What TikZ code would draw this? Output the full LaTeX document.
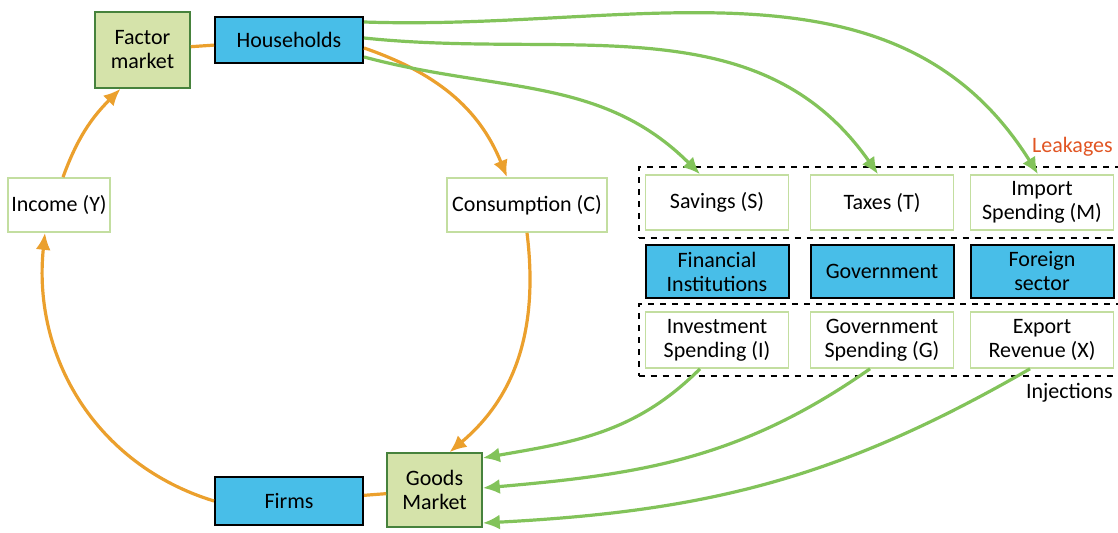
\documentclass[tikz,border=0pt]{standalone}
\usepackage{fontspec}
\setmainfont{Carlito}
\usetikzlibrary{arrows.meta,fit}

\definecolor{azul}{RGB}{72,190,232}
\definecolor{verdeclaro}{RGB}{213,227,170}
\definecolor{verdeosc}{RGB}{70,130,60}
\definecolor{borde}{RGB}{195,222,160}
\definecolor{naranja}{RGB}{235,160,45}
\definecolor{verde}{RGB}{130,195,90}
\definecolor{rojizo}{RGB}{225,85,35}

\tikzset{
	sector/.style={draw=black, line width=1pt, fill=azul, align=center, inner sep=1pt},
	mercado/.style={draw=verdeosc, line width=0.8pt, fill=verdeclaro, align=center, inner sep=1pt},
	flujo/.style={draw=borde, line width=0.8pt, fill=white, align=center, inner sep=1pt},
	marco/.style={draw=black, dashed, line width=0.8pt, inner xsep=3pt, inner ysep=3.5pt},
	circ/.style={draw=naranja, line width=1.6pt, -{Latex[length=8.5pt,width=7.5pt]}},
	enlace/.style={draw=naranja, line width=1.6pt},
	fuga/.style={draw=verde, line width=1.6pt, -{Latex[length=8.5pt,width=7.5pt]}}
}

\begin{document}
\begin{tikzpicture}[x=0.5pt, y=-0.5pt, font=\fontsize{11}{12}\selectfont]
\useasboundingbox (0,0) rectangle (1118,533);

% Flujo circular
\node[mercado, minimum width=47.5pt, minimum height=38pt] (factor) at (142.5,50) {Factor\\market};
\node[sector, minimum width=74pt, minimum height=23pt] (house) at (289,40) {Households};
\node[flujo, minimum width=51pt, minimum height=27pt] (income) at (59,205) {Income (Y)};
\node[flujo, minimum width=80pt, minimum height=27pt] (cons) at (527,205) {Consumption (C)};
\node[mercado, minimum width=47.5pt, minimum height=37pt] (goods) at (434.5,490) {Goods\\Market};
\node[sector, minimum width=74pt, minimum height=24pt] (firms) at (289,501) {Firms};

% Fugas, sectores e inyecciones
\node[flujo, minimum width=71.5pt, minimum height=27.5pt] (sav) at (717,202.5) {Savings (S)};
\node[flujo, minimum width=71.5pt, minimum height=27.5pt] (tax) at (882,202.5) {Taxes (T)};
\node[flujo, minimum width=71.5pt, minimum height=27.5pt] (imp) at (1042,202.5) {Import\\Spending (M)};

\node[sector, minimum width=71.5pt, minimum height=26.5pt] (fin) at (717,271.5) {Financial\\Institutions};
\node[sector, minimum width=71.5pt, minimum height=26.5pt] (gov) at (882,271.5) {Government};
\node[sector, minimum width=71.5pt, minimum height=26.5pt] (for) at (1042,271.5) {Foreign\\sector};

\node[flujo, minimum width=71.5pt, minimum height=28pt] (inv) at (717,340) {Investment\\Spending (I)};
\node[flujo, minimum width=71.5pt, minimum height=28pt] (gsp) at (882,340) {Government\\Spending (G)};
\node[flujo, minimum width=71.5pt, minimum height=28pt] (exr) at (1042,340) {Export\\Revenue (X)};

\node[marco, fit=(sav)(imp)] (leak) {};
\node[marco, fit=(inv)(exr)] (inj) {};
\node[anchor=south east, inner sep=1pt, text=rojizo] (leaklbl) at ([xshift=-3pt,yshift=4pt]leak.north east) {Leakages};
\node[anchor=north east, inner sep=1pt] (injlbl) at ([xshift=-3pt,yshift=-2pt]inj.south east) {Injections};

% Circuito
\draw[enlace] (factor) -- (house);
\draw[circ] ([yshift=-4pt]house.east) to[out=-19,in=112] ([xshift=-10pt]cons.north);
\draw[circ] (cons.south) to[out=-83,in=40] ([xshift=7.5pt]goods.north);
\draw[enlace] (goods) -- (firms);
\draw[circ] (firms.west) to[out=163,in=-96] ([xshift=-7pt]income.south);
\draw[circ] ([xshift=2pt]income.north) to[out=70,in=225] ([xshift=-11pt]factor.south);

% Fugas
\draw[fuga] ([yshift=9pt]house.east) to[out=-2,in=122] ([xshift=-2pt]imp.north);
\draw[fuga] ([yshift=1pt]house.east) to[out=-6,in=125] ([xshift=-2pt]tax.north);
\draw[fuga] ([yshift=-8.5pt]house.east) to[out=-15,in=135] ([xshift=-8.5pt]sav.north);

% Inyecciones
\draw[fuga] ([xshift=-8.5pt]inv.south) to[out=-135,in=10] ([yshift=16pt]goods.east);
\draw[fuga] ([xshift=-6pt]gsp.south) to[out=-145,in=5] ([yshift=1pt]goods.east);
\draw[fuga] ([xshift=-6pt]exr.south) to[out=-150,in=3] ([yshift=-16.5pt]goods.east);
\end{tikzpicture}
\end{document}
